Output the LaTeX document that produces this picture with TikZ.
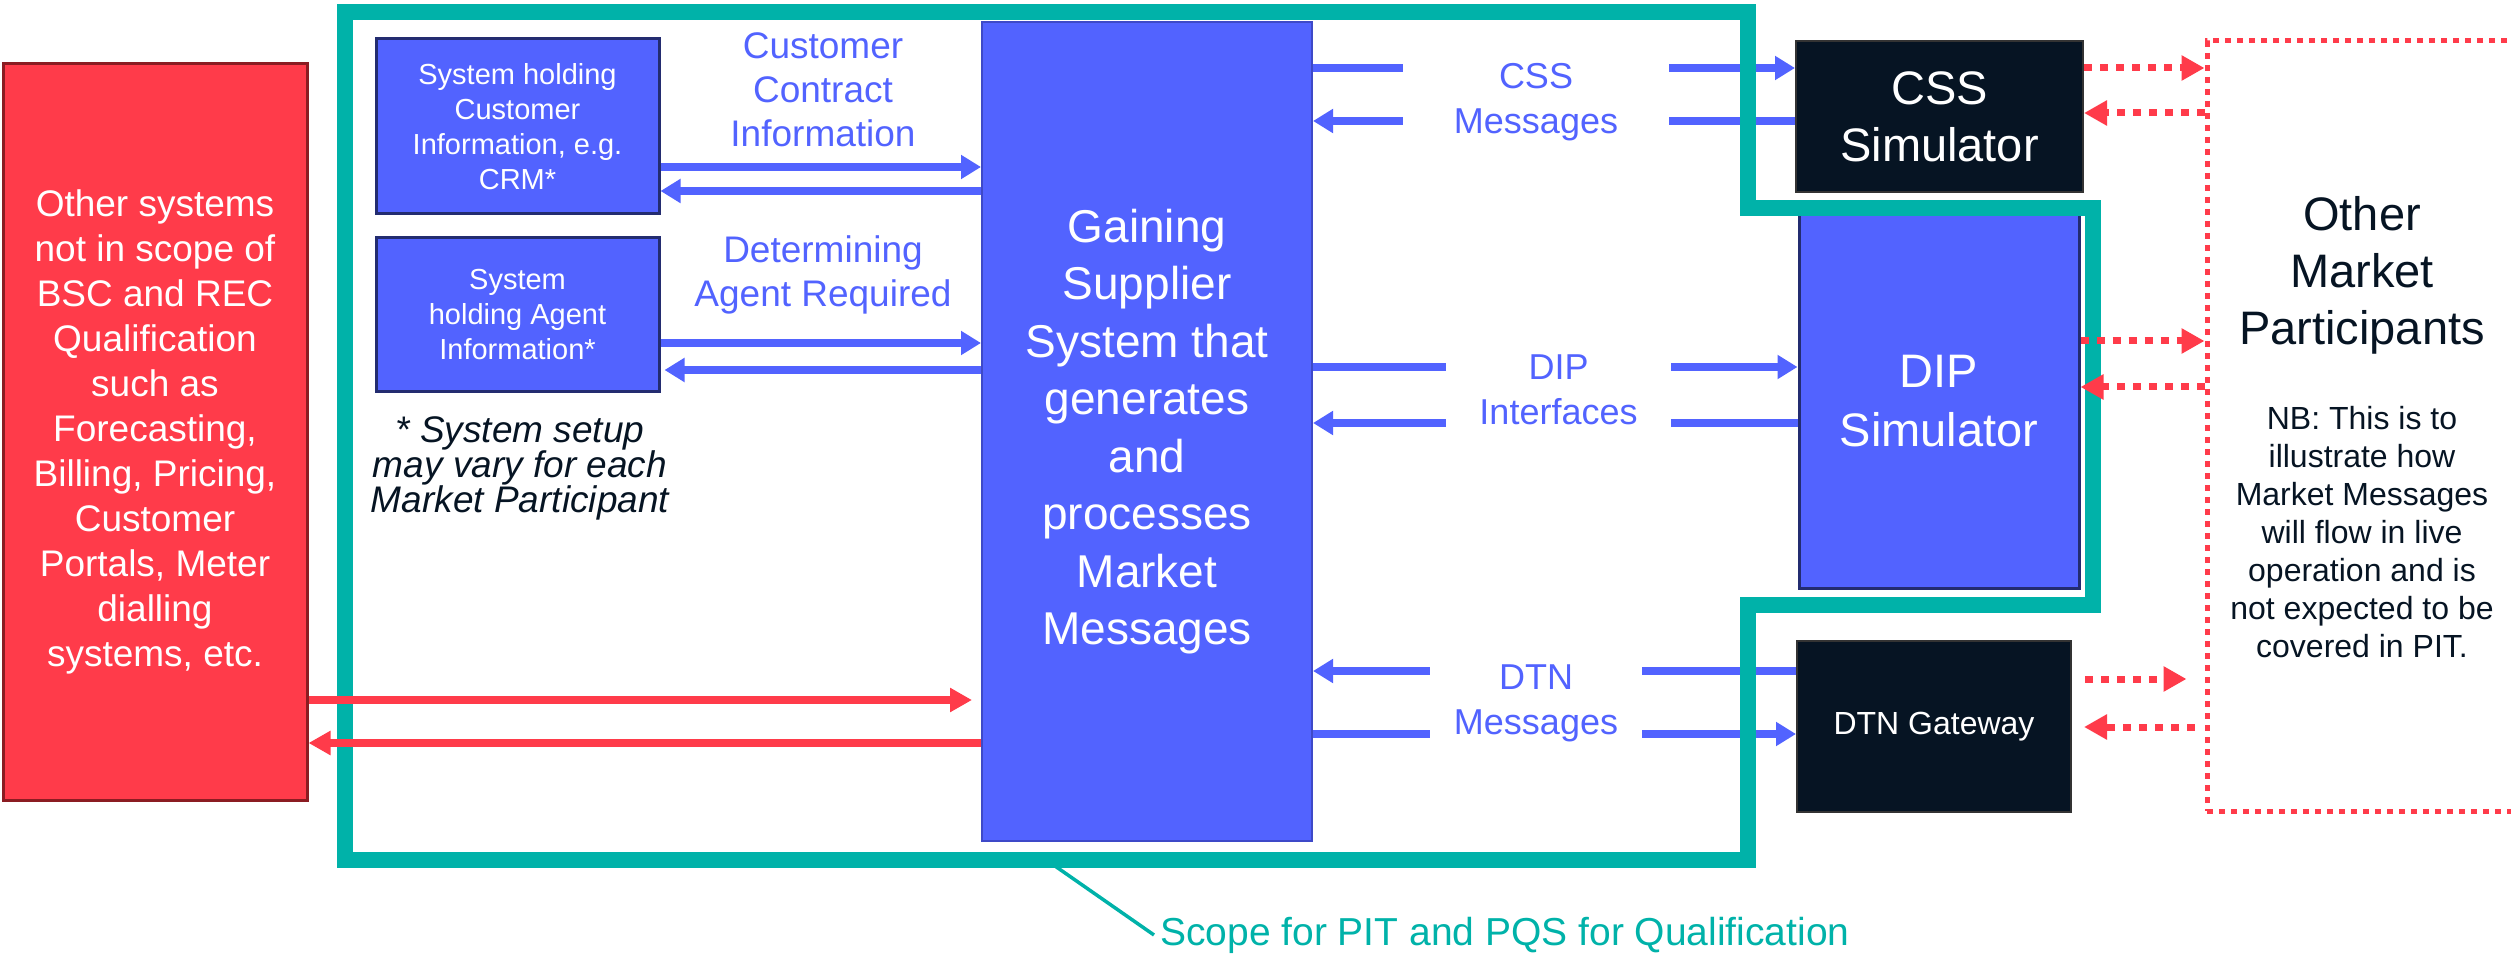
\documentclass[tikz,border=0pt]{standalone}
\usepackage{fontspec}
\setmainfont{Liberation Sans}
\usetikzlibrary{arrows.meta,calc}
\definecolor{ourblue}{HTML}{5263FF}
\definecolor{ourred}{HTML}{FF3B4A}
\definecolor{scopeteal}{HTML}{00B2A9}
\definecolor{navy}{HTML}{061423}
\definecolor{rededge}{HTML}{8B1C22}
\definecolor{blueedge}{HTML}{232C70}
\definecolor{gssedge}{HTML}{3E49C8}
\tikzset{
otherbox/.style={rectangle, draw=rededge, line width=3pt, fill=ourred, text=white, inner sep=0, align=center,
                 font=\fontsize{37}{45}\selectfont},
sysbox/.style={rectangle, draw=blueedge, line width=3pt, fill=ourblue, text=white, inner sep=0, align=center,
                 font=\fontsize{29}{35}\selectfont},
gssbox/.style={rectangle, draw=gssedge, line width=2pt, fill=ourblue, text=white, inner sep=0, align=center,
                 font=\fontsize{46}{57.5}\selectfont},
simbox/.style={rectangle, draw=black!80, line width=2pt, fill=navy, text=white, inner sep=0, align=center},
partbox/.style={rectangle, draw=ourred, line width=5pt, dash pattern=on 6pt off 6pt, inner sep=0},
flowlabel/.style={text=ourblue, align=center, inner sep=0, font=\fontsize{37}{44}\selectfont},
gaplabel/.style={fill=white, text=ourblue, align=center, inner sep=0, minimum height=84,
                 font=\fontsize{36}{45}\selectfont},
blueflow/.style={color=ourblue, line width=8pt, >={Triangle[length=20pt,width=23pt]}},
redflow/.style={color=ourred, line width=8pt, >={Triangle[length=22pt,width=23pt]}},
dotflow/.style={color=ourred, line width=7pt, dash pattern=on 8pt off 8pt, >={Triangle[length=23pt,width=24pt]}},
}
\begin{document}
\begin{tikzpicture}[x=1pt, y=1pt]

    \useasboundingbox (0,0) rectangle (2511,-957);

    \node[otherbox, minimum width=304, minimum height=736] (other) at(155, -432)  {Other systems\\not in scope of\\BSC and REC\\Qualification\\such as\\Forecasting,\\Billing, Pricing,\\Customer\\Portals, Meter\\dialling\\systems, etc.};

    \node[sysbox, minimum width=283, minimum height=175] (crm) at(517.5, -126.5)  {System holding\\Customer\\Information, e.g.\\CRM*};
    \node[sysbox, minimum width=283, minimum height=154] (agent) at(517.5, -315)  {System\\holding Agent\\Information*};

    \node[flowlabel] (ccinfo) at(823, -90)  {Customer\\Contract\\Information};
    \node[flowlabel] (agentreq) at(823, -275)  {Determining\\Agent Required};

    \node[text=navy, align=center, inner sep=0, font=\fontsize{37}{35}\selectfont\itshape] (setupnote) at(520, -468)  {* System setup\\may vary for each\\Market Participant};

    \node[gssbox, minimum width=330, minimum height=819] (gss) at(1147, -431.5)  {Gaining\\Supplier\\System that\\generates\\and\\processes\\Market\\Messages};

    \node[simbox, minimum width=287, minimum height=151, font=\fontsize{47}{57}\selectfont] (css) at(1939.5, -116.5)  {CSS\\Simulator};
    \node[sysbox, minimum width=280, minimum height=373, font=\fontsize{47}{59}\selectfont] (dip) at(1939, -401.5)  {DIP\\Simulator};
    \node[simbox, minimum width=274, minimum height=171, font=\fontsize{32}{38}\selectfont] (dtn) at(1934, -726.5)  {DTN Gateway};

    \node[partbox, minimum width=323, minimum height=770] (omp) at(2368.5, -426)  {};
    \node[text=navy, align=center, inner sep=0, font=\fontsize{47}{57}\selectfont] (omptitle) at(2362, -275)  {Other\\Market\\Participants};
    \node[text=navy, align=center, inner sep=0, font=\fontsize{32}{38}\selectfont] (ompnote) at(2362, -532)  {NB: This is to\\illustrate how\\Market Messages\\will flow in live\\operation and is\\not expected to be\\covered in PIT.};

    \draw[blueflow, ->] (crm.east |- 0,-167)  to (gss.west |- 0,-167) ;
    \draw[blueflow, ->] (gss.west |- 0,-191)  to (crm.east |- 0,-191) ;
    \draw[blueflow, ->] (agent.east |- 0,-343)  to (gss.west |- 0,-343) ;
    \draw[blueflow, ->, shorten >=4pt] (gss.west |- 0,-370)  to (agent.east |- 0,-370) ;

    \draw[blueflow, ->] (gss.east |- 0,-68)  to (css.west |- 0,-68) ;
    \draw[blueflow, ->] (css.west |- 0,-121)  to (gss.east |- 0,-121) ;
    \draw[blueflow, ->] (gss.east |- 0,-367)  to (dip.west |- 0,-367) ;
    \draw[blueflow, ->] (dip.west |- 0,-423)  to (gss.east |- 0,-423) ;
    \draw[blueflow, ->] (dtn.west |- 0,-671)  to (gss.east |- 0,-671) ;
    \draw[blueflow, ->] (gss.east |- 0,-734)  to (dtn.west |- 0,-734) ;

    \node[gaplabel, minimum width=266] (csslabel) at(1536, -102)  {CSS\\Messages};
    \node[gaplabel, minimum width=225] (diplabel) at(1558.5, -390)  {DIP\\Interfaces};
    \node[gaplabel, minimum width=212] (dtnlabel) at(1536, -703)  {DTN\\Messages};

    \draw[scopeteal, line width=16pt, miter limit=4] (345,-12) -- (1748,-12) -- (1748,-208) -- (2093,-208) -- (2093,-605)
        -- (1748,-605) -- (1748,-860) -- (345,-860) -- cycle;

    \draw[redflow, ->, shorten >=9pt] (other.east |- 0,-700)  to (gss.west |- 0,-700) ;
    \draw[redflow, ->] (gss.west |- 0,-743)  to (other.east |- 0,-743) ;

    \draw[dotflow, ->] (css.east |- 0,-68)  to (omp.west |- 0,-68) ;
    \draw[dotflow, ->] (omp.west |- 0,-113)  to (css.east |- 0,-113) ;
    \draw[dotflow, ->] (dip.east |- 0,-341)  to (omp.west |- 0,-341) ;
    \draw[dotflow, ->] (omp.west |- 0,-387)  to (dip.east |- 0,-387) ;
    \draw[dotflow, ->, shorten <=13pt, shorten >=18pt] (dtn.east |- 0,-679)  to (omp.west |- 0,-679) ;
    \draw[dotflow, ->, shorten <=10pt, shorten >=12pt] (omp.west |- 0,-727)  to (dtn.east |- 0,-727) ;

    \node[text=scopeteal, anchor=west, inner sep=6pt, font=\fontsize{39}{45}\selectfont] (scope) at(1154, -935)  {Scope for PIT and PQS for Qualification};
    \coordinate (scopetick) at(1055, -866);
    \draw[scopeteal, line width=3.5pt] (scopetick)  to (scope.west) ;
\end{tikzpicture}
\end{document}
